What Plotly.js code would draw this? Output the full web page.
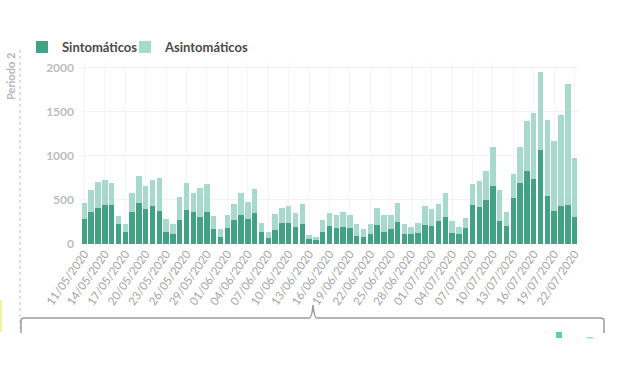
<!DOCTYPE html>
<html>
<head>
<meta charset="utf-8">
<script src="https://cdn.plot.ly/plotly-3.0.1.min.js"></script>
<style>html,body{margin:0;padding:0;background:#fff;}#chart{width:620px;height:368px;}</style>
</head>
<body>
<div id="chart"></div>
<script>
const dates = [
"11/05/2020","12/05/2020","13/05/2020","14/05/2020","15/05/2020","16/05/2020","17/05/2020","18/05/2020","19/05/2020","20/05/2020",
"21/05/2020","22/05/2020","23/05/2020","24/05/2020","25/05/2020","26/05/2020","27/05/2020","28/05/2020","29/05/2020","30/05/2020",
"31/05/2020","01/06/2020","02/06/2020","03/06/2020","04/06/2020","05/06/2020","06/06/2020","07/06/2020","08/06/2020","09/06/2020",
"10/06/2020","11/06/2020","12/06/2020","13/06/2020","14/06/2020","15/06/2020","16/06/2020","17/06/2020","18/06/2020","19/06/2020",
"20/06/2020","21/06/2020","22/06/2020","23/06/2020","24/06/2020","25/06/2020","26/06/2020","27/06/2020","28/06/2020","29/06/2020",
"30/06/2020","01/07/2020","02/07/2020","03/07/2020","04/07/2020","05/07/2020","06/07/2020","07/07/2020","08/07/2020","09/07/2020",
"10/07/2020","11/07/2020","12/07/2020","13/07/2020","14/07/2020","15/07/2020","16/07/2020","17/07/2020","18/07/2020","19/07/2020",
"20/07/2020","21/07/2020","22/07/2020"];

const sintomaticos = [288,360,413,443,443,223,140,360,462,402,436,379,140,117,269,386,360,303,367,167,
83,178,273,326,288,348,136,72,159,242,242,189,227,57,45,136,208,182,197,186,
95,80,110,212,136,170,246,114,114,129,216,208,261,311,129,110,178,439,420,500,
652,261,208,523,690,822,735,1068,545,379,432,439,311];

const asintomaticos = [174,250,288,280,250,91,83,216,303,257,284,363,140,110,258,303,223,330,315,155,
87,152,182,250,193,273,99,61,178,163,190,159,228,45,38,137,148,144,170,140,
128,90,113,193,194,160,224,117,75,110,212,194,197,265,132,79,121,239,288,326,
443,356,159,269,412,572,750,879,864,784,1034,1368,659];

const tickLabels = ["11/05/2020","14/05/2020","17/05/2020","20/05/2020","23/05/2020","26/05/2020","29/05/2020",
"01/06/2020","04/06/2020","07/06/2020","10/06/2020","13/06/2020","16/06/2020","19/06/2020","22/06/2020",
"25/06/2020","28/06/2020","01/07/2020","04/07/2020","07/07/2020","10/07/2020","13/07/2020","16/07/2020",
"19/07/2020","22/07/2020"];

const seriesNames = ["Sintomáticos","Asintomáticos"];
const darkC = "#43a184", lightC = "#a8dacc";

// plot area in pixels: left 81, right 578, top 63, bottom 244
const L = 81, R = 578, T = 63, B = 244;
const px = x => (x - L) / (R - L);
const py = y => (B - y) / (B - T);

const traces = [
  {type:"bar", name:"<b>" + seriesNames[0] + "</b>", x:dates, y:sintomaticos, marker:{color:darkC}, legend:"legend"},
  {type:"bar", name:"<b>" + seriesNames[1] + "</b>", x:dates, y:asintomaticos, marker:{color:lightC}, legend:"legend2"}
];

const legendBase = {orientation:"h", xanchor:"left", y:py(47), yanchor:"middle",
    font:{size:13, color:"#4a4a4a", family:"Lato, sans-serif"},
    itemwidth:30, bgcolor:"rgba(0,0,0,0)"};

const gray = "#9a9a9a";
const layout = {
  width:620, height:368,
  margin:{l:L, r:620-R, t:T, b:368-B, pad:0},
  barmode:"stack", bargap:0.2,
  paper_bgcolor:"#fff", plot_bgcolor:"#fff",
  font:{family:"Lato, 'Open Sans', sans-serif", color:gray},
  showlegend:true,
  legend:Object.assign({}, legendBase, {x:px(22)}),
  legend2:Object.assign({}, legendBase, {x:px(125)}),
  xaxis:{type:"category", tickmode:"array", tickvals:tickLabels, ticktext:tickLabels,
    tickangle:-55, tickfont:{size:11.5, color:"#a5a5a5", family:"Lato, sans-serif"},
    showgrid:true, gridcolor:"#f6f6f6", zeroline:false, showline:false, ticks:"", ticklen:0,
    range:[-0.5, 72.5], fixedrange:true},
  yaxis:{range:[0,2050], tickvals:[0,500,1000,1500,2000], ticktext:["<b>0</b>","<b>500</b>","<b>1000</b>","<b>1500</b>","<b>2000</b>"],
    tickfont:{size:12, color:"#bdbdbd", family:"Lato, sans-serif"},
    showgrid:true, gridcolor:"#f3f3f3", zeroline:false, showline:false, ticks:"", ticklabelstandoff:6},
  annotations:[
    {text:"<b>Periodo 2</b>", xref:"paper", yref:"paper", x:px(10), y:py(77), xanchor:"center", yanchor:"middle",
     textangle:-90, showarrow:false, font:{size:11, color:"#b5b5b5", family:"Lato, sans-serif"}}
  ],
  shapes:[
    {type:"line", xref:"paper", yref:"paper", x0:px(20), x1:px(20), y0:py(50), y1:py(330),
     line:{color:"#c4c4c4", width:1, dash:"dot"}},
    {type:"path", xref:"paper", yref:"paper",
     path:`M ${px(21)} ${py(333)} L ${px(21)} ${py(321)} Q ${px(21)} ${py(318)} ${px(24)} ${py(318)} L ${px(309)} ${py(318)} Q ${px(312)} ${py(318)} ${px(313)} ${py(305)} Q ${px(314)} ${py(318)} ${px(317)} ${py(318)} L ${px(601)} ${py(318)} Q ${px(604)} ${py(318)} ${px(604)} ${py(321)} L ${px(604)} ${py(333)}`,
     line:{color:"#9c9c9c", width:1.5}},
    {type:"rect", xref:"paper", yref:"paper", x0:px(556), x1:px(562), y0:py(332), y1:py(338),
     fillcolor:"#5fd0a0", line:{width:0}},
    {type:"rect", xref:"paper", yref:"paper", x0:px(587), x1:px(593), y0:py(337), y1:py(338.5),
     fillcolor:"#9fd9c7", line:{width:0}},
    {type:"rect", xref:"paper", yref:"paper", x0:px(0), x1:px(2), y0:py(300), y1:py(332),
     fillcolor:"#f5f0a0", line:{width:0}}
  ]
};

Plotly.newPlot("chart", traces, layout, {displayModeBar:false, staticPlot:true});
</script>
</body>
</html>
